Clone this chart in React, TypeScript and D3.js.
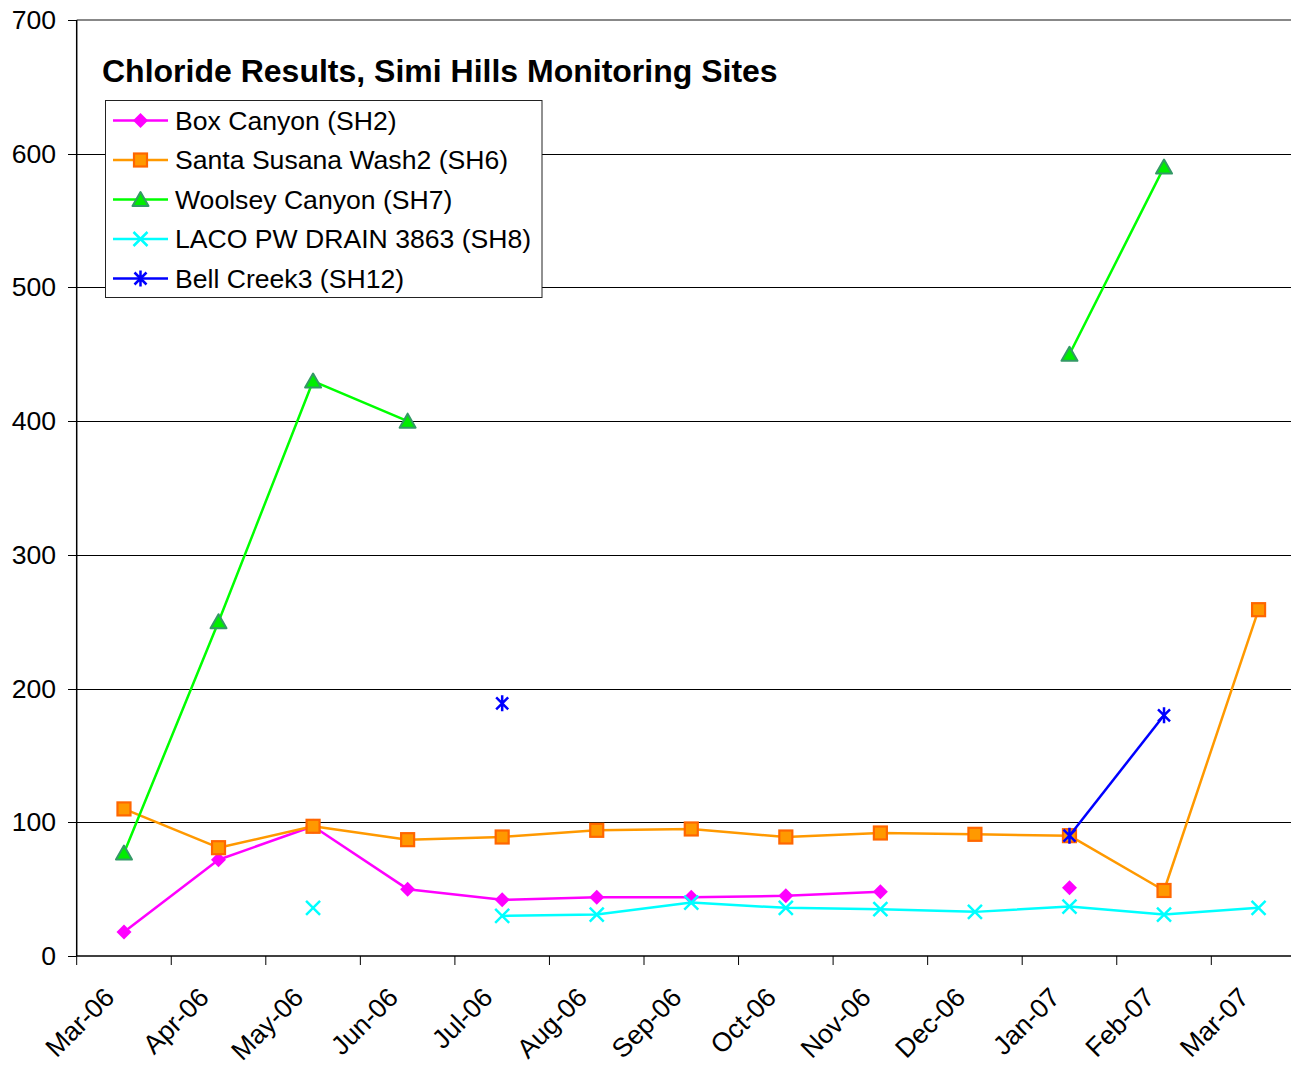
import React from "react";
import * as d3 from "d3";

const months = ["Mar-06","Apr-06","May-06","Jun-06","Jul-06","Aug-06","Sep-06","Oct-06","Nov-06","Dec-06","Jan-07","Feb-07","Mar-07"];
const boxCanyon: (number|null)[] = [18, 72, 97, 50, 42, 44, 44, 45, 48, null, 51, null, null];
const santaSusana: (number|null)[] = [110, 81, 97, 87, 89, 94, 95, 89, 92, 91, 90, 49, 259];
const woolsey: (number|null)[] = [77, 250, 430, 400, null, null, null, null, null, null, 450, 590, null];
const laco: (number|null)[] = [null, null, 36, null, 30, 31, 40, 36, 35, 33, 37, 31, 36];
const bellCreek: (number|null)[] = [null, null, null, null, 189, null, null, null, null, null, 90, 180, null];
const yTicks = [0, 100, 200, 300, 400, 500, 600, 700];
const seriesNames = ["Box Canyon (SH2)", "Santa Susana Wash2 (SH6)", "Woolsey Canyon (SH7)", "LACO PW DRAIN 3863 (SH8)", "Bell Creek3 (SH12)"];
const title = "Chloride Results, Simi Hills Monitoring Sites";

const FONT = "'Liberation Sans', Arial, sans-serif";

type Style = { line: string; marker: string };
const styles: Style[] = [
  { line: "#FF00FF", marker: "diamond" },
  { line: "#FF9900", marker: "square" },
  { line: "#00FF00", marker: "triangle" },
  { line: "#00FFFF", marker: "x" },
  { line: "#0000FF", marker: "star" },
];

function Marker({ kind, x, y }: { kind: string; x: number; y: number }) {
  const t = `translate(${x},${y})`;
  if (kind === "diamond")
    return <path transform={t} d="M0,-7.5L7.5,0L0,7.5L-7.5,0Z" fill="#FF00FF" />;
  if (kind === "square")
    return <rect transform={t} x={-6.5} y={-6.5} width={13} height={13} fill="#FF9900" stroke="#FF6600" strokeWidth={2.2} />;
  if (kind === "triangle")
    return <path transform={t} d="M0,-7.5L8,6.5L-8,6.5Z" fill="#00EE00" stroke="#339966" strokeWidth={2} strokeLinejoin="round" />;
  if (kind === "x")
    return <path transform={t} d="M-7,-7L7,7M-7,7L7,-7" stroke="#00FFFF" strokeWidth={2.5} fill="none" />;
  return <path transform={t} d="M-6,-6L6,6M-6,6L6,-6M0,-8L0,8" stroke="#0000FF" strokeWidth={2.5} fill="none" />;
}

export default function App() {
  const W = 1291, H = 1065;
  const left = 76.7, step = 94.55;
  const x = d3.scaleBand<string>().domain(months).range([left, left + step * months.length]).padding(0);
  const y = d3.scaleLinear().domain([0, 700]).range([956, 20]);
  const cx = (m: string) => (x(m) as number) + x.bandwidth() / 2;
  const data = [boxCanyon, santaSusana, woolsey, laco, bellCreek];
  const line = d3.line<number|null>()
    .defined((d) => d !== null)
    .x((_, i) => cx(months[i]))
    .y((d) => y(d as number));
  const plotRight = left + step * months.length;

  const legendX = 105.5, legendY = 100.5, legendW = 436.5, legendH = 197;
  const rowY = (i: number) => 120.5 + i * 39.5;
  const fs = 26.6;

  return (
    <svg width={W} height={H} style={{ position: "absolute", left: 0, top: 0, display: "block" }} fontFamily={FONT}>
      <rect width={W} height={H} fill="#fff" />
      {yTicks.filter((t) => t > 0 && t < 700).map((t) => (
        <line key={t} x1={left} x2={plotRight} y1={Math.round(y(t)) + 0.5} y2={Math.round(y(t)) + 0.5} stroke="#000" strokeWidth={1} />
      ))}
      <line x1={left} x2={plotRight} y1={y(700)} y2={y(700)} stroke="#888" strokeWidth={2} />
      <line x1={left} x2={left} y1={y(700)} y2={y(0)} stroke="#000" strokeWidth={1.5} />
      {yTicks.map((t) => (
        <g key={t}>
          <line x1={68} x2={left} y1={Math.round(y(t)) + 0.5} y2={Math.round(y(t)) + 0.5} stroke="#000" strokeWidth={1} />
          <text x={56} y={y(t) + 9} textAnchor="end" fontSize={fs} fill="#000">{t}</text>
        </g>
      ))}
      <line x1={left} x2={plotRight} y1={y(0)} y2={y(0)} stroke="#000" strokeWidth={1.5} />
      {months.map((m) => (
        <line key={m} x1={(x(m) as number)} x2={(x(m) as number)} y1={y(0)} y2={965} stroke="#000" strokeWidth={1} />
      ))}
      {months.map((m) => (
        <text key={m} transform={`translate(${cx(m) - 8},${999}) rotate(-45)`} textAnchor="end" fontSize={fs} fill="#000">{m}</text>
      ))}
      {data.map((s, si) => (
        <g key={si}>
          <path d={line(s) || ""} fill="none" stroke={styles[si].line} strokeWidth={2.5} strokeLinejoin="round" />
          {s.map((v, i) => v === null ? null : <Marker key={i} kind={styles[si].marker} x={cx(months[i])} y={y(v)} />)}
        </g>
      ))}
      <text x={102} y={82} fontSize={32} fontWeight="bold" fill="#000">{title}</text>
      <rect x={legendX} y={legendY} width={legendW} height={legendH} fill="#fff" stroke="#222" strokeWidth={1} />
      {seriesNames.map((n, i) => (
        <g key={n}>
          <line x1={113} x2={168} y1={rowY(i)} y2={rowY(i)} stroke={styles[i].line} strokeWidth={2.5} />
          <Marker kind={styles[i].marker} x={140.5} y={rowY(i)} />
          <text x={175} y={rowY(i) + 9} fontSize={fs} fill="#000">{n}</text>
        </g>
      ))}
    </svg>
  );
}
